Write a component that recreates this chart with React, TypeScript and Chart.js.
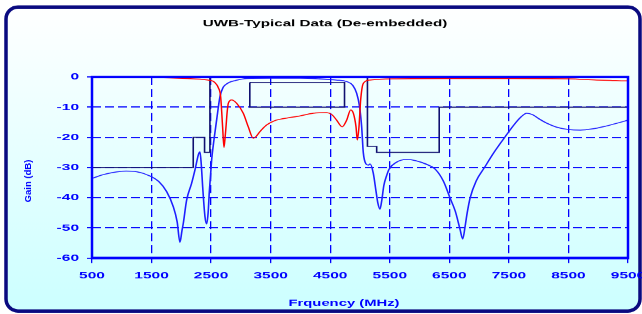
import React, { useEffect, useRef } from 'react';
import { Chart, registerables } from 'chart.js';

Chart.register(...registerables);

// ---------------- data ----------------
const chartTitle = 'UWB-Typical Data (De-embedded)';
const xTitle = 'Frquency (MHz)';
const yTitle = 'Gain (dB)';

const xTicks = [500, 1500, 2500, 3500, 4500, 5500, 6500, 7500, 8500, 9500];
const yTicks = [0, -10, -20, -30, -40, -50, -60];

// S21 (blue)
const s21Freq = [
  500, 700, 900, 1073, 1250, 1474, 1620, 1754, 1865, 1930, 1977, 2010, 2033, 2089, 2173, 2229,
  2290, 2313, 2335, 2358, 2397, 2425, 2450, 2470, 2509, 2550, 2593, 2649, 2700, 2733, 2800, 2900,
  3097, 3500, 4000, 4300, 4600, 4776, 4880, 4944, 4990, 5028, 5055, 5100, 5140, 5170, 5222, 5270,
  5300, 5335, 5365, 5400, 5450, 5490, 5600, 5784, 5950, 6100, 6260, 6400, 6510, 6600, 6680, 6725,
  6765, 6800, 6850, 6950, 7090, 7250, 7430, 7600, 7700, 7800, 7900, 8000, 8135, 8300, 8500, 8700,
  8900, 9100, 9300, 9500,
];
const s21Gain = [
  -33.6, -32.3, -31.5, -31.2, -31.4, -32.8, -34.6, -38, -43, -48, -54.8, -51, -48.5, -40.8, -35.2, -30.8,
  -25.5, -24.8, -29, -36.3, -46.3, -48.7, -45, -38, -27.5, -20.5, -14.2, -6.5, -3.5, -2.7, -1.8, -1.2,
  -0.5, -0.4, -0.4, -0.6, -1, -1.5, -2.8, -5.4, -9.5, -16.5, -25, -28.8, -29.2, -28.8, -31.8, -38,
  -41.8, -43.8, -41, -36, -32.5, -30.5, -28.4, -27.3, -27.8, -28.8, -30.5, -34.5, -40, -44.5, -50.5, -53.7,
  -49.5, -45, -40, -34.5, -30, -25, -20, -15.5, -13.3, -12, -12.5, -13.8, -15.3, -16.6, -17.4, -17.6,
  -17.2, -16.4, -15.4, -14.3,
];

// S11 (red)
const s11Freq = [
  500, 1200, 1800, 2100, 2313, 2450, 2535, 2580, 2620, 2660, 2693, 2716, 2735, 2750, 2770, 2789,
  2845, 2929, 3040, 3124, 3208, 3260, 3320, 3432, 3550, 3657, 3800, 3937, 4216, 4440, 4530, 4608,
  4702, 4776, 4843, 4888, 4933, 4955, 4983, 5011, 5056, 5167, 5616, 6500, 7500, 8500, 8973, 9200,
  9450, 9500,
];
const s11Gain = [
  -0.1, -0.1, -0.3, -0.5, -0.7, -1, -1.4, -2.2, -3.5, -6.5, -16.5, -23.3, -20, -16.5, -11.5, -8.7,
  -7.6, -8.7, -12, -16.5, -20.3, -19.6, -18.1, -15.9, -14.6, -14, -13.5, -13.1, -12, -11.8, -12.5, -14.3,
  -16.5, -14.3, -10.9, -12, -16.5, -20.9, -16.5, -7.6, -2.1, -1, -0.6, -0.5, -0.5, -0.6, -1, -1.1,
  -1.3, -1.3,
];

// Spec mask (stop-band outline)
const maskStopFreq = [500, 2200, 2200, 2390, 2390, 2480, 2480, 5125, 5125, 5280, 5280, 6330, 6330, 9500];
const maskStopGain = [-30, -30, -20, -20, -25, -25, 0, 0, -23, -23, -25, -25, -10, -10];

// Spec mask (pass-band box)
const maskPassFreq = [3150, 4740, 4740, 3150, 3150];
const maskPassGain = [-1.8, -1.8, -10, -10, -1.8];

// ---------------- layout ----------------
const VIEW_W = 642;
const VIEW_H = 314;
const W = 660; // logical width (clipped to 642)
const H = 502; // logical height, squashed into 314 px
const KY = H / VIEW_H;
const PLOT = { left: 92, right: 628, top: 77, bottom: 258 };
const FONT = "'Liberation Sans', Arial, Helvetica, sans-serif";
const BLUE = '#0000ff';

const pts = (xs: number[], ys: number[]) => xs.map((x, i) => ({ x, y: ys[i] }));

const decor = {
  id: 'decor',
  beforeDraw(chart: any) {
    const ctx = chart.ctx as CanvasRenderingContext2D;
    ctx.save();
    ctx.scale(1, KY);
    const g = ctx.createLinearGradient(0, 7, 0, 311);
    g.addColorStop(0, '#ffffff');
    g.addColorStop(1, '#ccffff');
    ctx.beginPath();
    (ctx as any).roundRect(6, 7, 634, 304, 12);
    ctx.fillStyle = g;
    ctx.fill();
    ctx.lineWidth = 3.5;
    ctx.strokeStyle = '#0a0a80';
    ctx.stroke();
    ctx.restore();
  },
  afterDraw(chart: any) {
    const ctx = chart.ctx as CanvasRenderingContext2D;
    const a = chart.chartArea;
    ctx.save();
    ctx.scale(1, KY);
    ctx.strokeStyle = BLUE;
    ctx.lineWidth = 2.5;
    ctx.strokeRect(a.left, a.top / KY, a.right - a.left, (a.bottom - a.top) / KY);
    // y title (unstretched)
    ctx.translate(28.5, 181);
    ctx.rotate(-Math.PI / 2);
    ctx.font = `bold 9.5px ${FONT}`;
    ctx.fillStyle = BLUE;
    ctx.textAlign = 'center';
    ctx.textBaseline = 'middle';
    ctx.fillText(yTitle, 0, 0);
    ctx.restore();

    ctx.save();
    ctx.textAlign = 'center';
    ctx.textBaseline = 'alphabetic';
    ctx.font = `bold 15.2px ${FONT}`;
    ctx.fillStyle = '#000000';
    ctx.fillText(chartTitle, 325, 26 * KY);
    ctx.font = `bold 14.8px ${FONT}`;
    ctx.fillStyle = BLUE;
    ctx.fillText(xTitle, 344, 305.7 * KY);
    ctx.restore();
  },
};

export default function App() {
  const ref = useRef<HTMLCanvasElement>(null);
  useEffect(() => {
    const canvas = ref.current;
    if (!canvas) return;
    const tickFont = { family: FONT, size: 15.5, weight: 'bold' as const };
    const chart = new Chart(canvas, {
      type: 'line',
      data: {
        datasets: [
          {
            label: 'S11',
            data: pts(s11Freq, s11Gain),
            borderColor: '#ff0000',
            borderWidth: 1.5,
            pointRadius: 0,
            cubicInterpolationMode: 'monotone',
            fill: false,
          },
          {
            label: 'S21',
            data: pts(s21Freq, s21Gain),
            borderColor: '#1f1fff',
            borderWidth: 1.6,
            pointRadius: 0,
            cubicInterpolationMode: 'monotone',
            fill: false,
          },
          {
            label: 'Mask stop',
            data: pts(maskStopFreq, maskStopGain),
            borderColor: '#101070',
            borderWidth: 1.6,
            pointRadius: 0,
            tension: 0,
            fill: false,
          },
          {
            label: 'Mask pass',
            data: pts(maskPassFreq, maskPassGain),
            borderColor: '#101070',
            borderWidth: 1.6,
            pointRadius: 0,
            tension: 0,
            fill: false,
          },
        ],
      },
      options: {
        responsive: false,
        animation: false,
        devicePixelRatio: 1,
        layout: { padding: { left: 0, right: W - PLOT.right, top: PLOT.top * KY, bottom: 0 } },
        plugins: {
          legend: { display: false },
          tooltip: { enabled: false },
          title: { display: false },
        },
        scales: {
          x: {
            type: 'linear',
            min: 500,
            max: 9500,
            afterBuildTicks: (s: any) => {
              s.ticks = xTicks.map((v) => ({ value: v }));
            },
            afterFit: (s: any) => {
              s.height = H - PLOT.bottom * KY;
            },
            grid: { color: BLUE, lineWidth: 1.3, tickLength: 8, tickWidth: 1.3, tickColor: BLUE },
            border: { display: false, dash: [12.8, 6.4] },
            ticks: {
              color: BLUE,
              font: tickFont,
              padding: 11,
              maxRotation: 0,
              autoSkip: false,
              callback: (v: any) => String(v),
            },
          },
          y: {
            type: 'linear',
            min: -60,
            max: 0,
            afterBuildTicks: (s: any) => {
              s.ticks = yTicks.map((v) => ({ value: v }));
            },
            afterFit: (s: any) => {
              s.width = PLOT.left;
            },
            grid: { color: BLUE, lineWidth: 1.8, tickLength: 5, tickWidth: 1.8, tickColor: BLUE },
            border: { display: false, dash: [9, 4] },
            ticks: {
              color: BLUE,
              font: tickFont,
              padding: 8,
              autoSkip: false,
              callback: (v: any) => String(v),
            },
          },
        },
      },
      plugins: [decor],
    } as any);
    return () => chart.destroy();
  }, []);

  return (
    <div
      style={{
        position: 'fixed',
        left: 0,
        top: 0,
        width: VIEW_W,
        height: VIEW_H,
        overflow: 'hidden',
        background: '#ffffff',
      }}
    >
      <canvas
        ref={ref}
        width={W}
        height={H}
        style={{ width: `${W}px`, height: `${VIEW_H}px`, display: 'block' }}
      />
    </div>
  );
}
